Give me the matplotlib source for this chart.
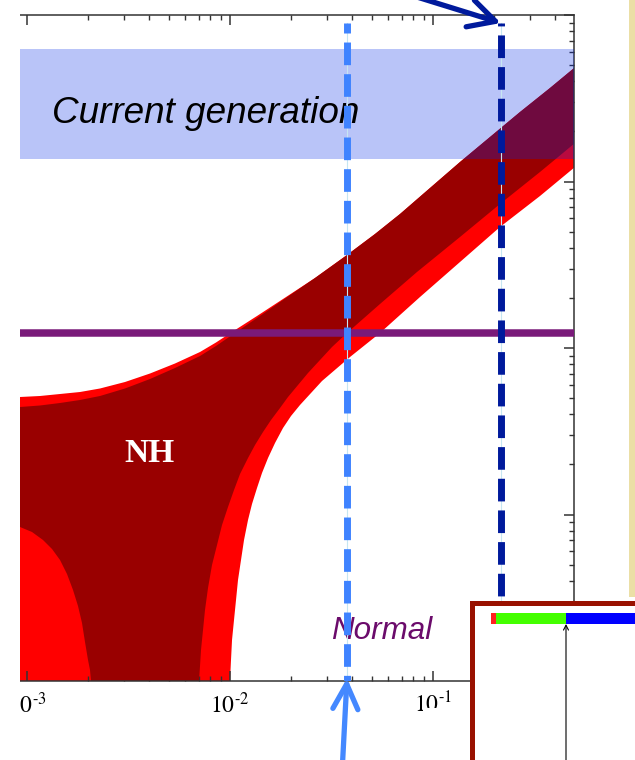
import numpy as np
import matplotlib
matplotlib.use("Agg")
import matplotlib.pyplot as plt
from matplotlib.patches import Rectangle
from matplotlib.ticker import LogLocator, NullFormatter, FixedLocator, FixedFormatter

plt.rcParams['mathtext.fontset'] = 'stix'
plt.rcParams['lines.scale_dashes'] = False

# ---------------- data (values given as log10 of eV) ----------------
x_range = (9.235e-4, 0.495)          # lightest neutrino mass [eV]
y_range = (1e-4, 1.0)                # effective Majorana mass [eV]
x_ticks = [1e-3, 1e-2, 1e-1]
x_tick_labels = [r'$10^{\text{-}3}$', r'$10^{\text{-}2}$', r'$10^{\text{-}1}$']

# upper boundary of the NH band
upper_logm = [-3.0837, -3.0345, -2.9360, -2.8374, -2.7389, -2.6404, -2.5172, -2.3941,
              -2.2709, -2.1478, -2.0690, -1.9901, -1.8670, -1.7389, -1.5813, -1.4236,
              -1.2857, -1.1626, -1.0148, -0.8670, -0.7192, -0.5714, -0.4236, -0.2512]
upper_dark_log = [-2.3604, -2.3544, -2.3453, -2.3303, -2.3123, -2.2883, -2.2432, -2.1862,
                  -2.1201, -2.0480, -1.9880, -1.9219, -1.8198, -1.7117, -1.5796, -1.4414,
                  -1.3153, -1.1952, -1.0390, -0.8829, -0.7327, -0.5826, -0.4384, -0.2643]
upper_outer_log = [-2.3003, -2.2943, -2.2883, -2.2763, -2.2643, -2.2432, -2.2042, -2.1532,
                   -2.0931, -2.0240, -1.9670, -1.9039, -1.8078, -1.7057, -1.5796, -1.4414,
                   -1.3153, -1.1952, -1.0390, -0.8829, -0.7327, -0.5826, -0.4384, -0.2643]

# lower boundary (right branch) of the best-fit region
lower_dark_logm = [-0.2512, -0.3005, -0.4729, -0.6700, -0.8670, -1.0788, -1.2611, -1.4236,
                   -1.4975, -1.5567, -1.6158, -1.6650, -1.7143, -1.7537, -1.7980, -1.8374,
                   -1.8768, -1.9113, -1.9507, -1.9803, -2.0099, -2.0394, -2.0640, -2.0887,
                   -2.1084, -2.1232, -2.1330, -2.1429, -2.1478, -2.1527]
lower_dark_log = [-0.7207, -0.7688, -0.9429, -1.1351, -1.3333, -1.5435, -1.7357, -1.9099,
                  -1.9940, -2.0721, -2.1502, -2.2222, -2.2943, -2.3604, -2.4324, -2.5045,
                  -2.5826, -2.6607, -2.7568, -2.8529, -2.9550, -3.0631, -3.1832, -3.3033,
                  -3.4414, -3.5736, -3.6937, -3.8138, -3.9099, -4.0]

# lower boundary (right branch) of the 3 sigma region
lower_outer_logm = [-0.2512, -0.3005, -0.4729, -0.6700, -0.8670, -1.0640, -1.2611, -1.3350,
                    -1.4089, -1.4778, -1.5468, -1.6010, -1.6552, -1.6995, -1.7389, -1.7783,
                    -1.8128, -1.8424, -1.8670, -1.8916, -1.9113, -1.9310, -1.9458, -1.9606,
                    -1.9704, -1.9803, -1.9901, -1.9951, -2.0]
lower_outer_log = [-0.8649, -0.9129, -1.0871, -1.2733, -1.4835, -1.6937, -1.9099, -1.9820,
                   -2.0541, -2.1261, -2.1982, -2.2703, -2.3423, -2.4084, -2.4805, -2.5706,
                   -2.6607, -2.7508, -2.8408, -2.9369, -3.0330, -3.1532, -3.2733, -3.3934,
                   -3.5135, -3.6336, -3.7538, -3.8739, -4.0]

# lower boundary (left branch) of the best-fit region
blob_logm = [-2.6847, -2.6897, -2.6995, -2.7143, -2.7291, -2.7488, -2.7734, -2.8030,
             -2.8374, -2.8768, -2.9212, -2.9754, -3.0345, -3.0837]
blob_log = [-4.0, -3.9339, -3.8739, -3.7658, -3.6517, -3.5495, -3.4535, -3.3574,
            -3.2733, -3.2072, -3.1532, -3.1051, -3.0751, -3.0450]

floor = 1e-5
normal_sensitivity = 0.0123
current_band = (0.1365, 0.625)
light_line_m = 0.0377
dark_line_m = 0.216
line_top = 0.895

# inset colour bar segments (left offset, widths)
inset_start = 19.5
inset_widths = [5, 70, 100]
inset_colors = ['#ff2020', '#44ff00', '#0000ff']
inset_arrow_x = inset_start + inset_widths[0] + inset_widths[1]

# ---------------- figure ----------------
def ev(v):
    return list(10.0 ** np.asarray(v))

W, H = 635, 760
fig = plt.figure(figsize=(W / 100, H / 100), dpi=100)
fig.patch.set_facecolor('white')
ax = fig.add_axes([20 / W, (H - 681) / H, 554 / W, 666 / H])
ax.set_xscale('log')
ax.set_yscale('log')
ax.set_xlim(*x_range)
ax.set_ylim(*y_range)

um = ev(upper_logm)
# 3 sigma (bright red)
bx = um + ev(lower_outer_logm) + [ev(lower_outer_logm)[-1], um[0]]
by = ev(upper_outer_log) + ev(lower_outer_log) + [floor, floor]
ax.fill(bx, by, color='#ff0000', lw=0, zorder=1)
# best fit (dark red)
dx = um + ev(lower_dark_logm) + [ev(lower_dark_logm)[-1], ev(blob_logm)[0]] + ev(blob_logm)
dy = ev(upper_dark_log) + ev(lower_dark_log) + [floor, floor] + ev(blob_log)
ax.fill(dx, dy, color='#990000', lw=0, zorder=2)

# current generation band
ax.axhspan(*current_band, color='#0028e6', alpha=0.275, lw=0, zorder=3)
ax.text(0.0578, 0.8378, 'Current generation', transform=ax.transAxes,
        family='Liberation Sans', style='italic', fontsize=26.6,
        ha='left', va='baseline', color='black', zorder=4)

# normal hierarchy sensitivity line
ax.axhline(normal_sensitivity, color='#7a1a7a', lw=5.4, zorder=5)

ax.text(4.0e-3, 2.34e-3, 'NH', family='Liberation Serif', weight='bold',
        fontsize=24, color='white', ha='center', va='center', zorder=4)
ax.text(0.0314, 1.79e-4, 'Normal', family='Liberation Sans', style='italic',
        fontsize=22.6, color='#6b0b6b', ha='left', va='baseline', zorder=4)

# dashed vertical lines
for m, col, off, bottom in [(light_line_m, '#3f83ff', 9.1, 1e-4),
                            (dark_line_m, '#001a9c', 14.2, 1e-4)]:
    ax.plot([m, m], [line_top, bottom], color='#c6e6f2', lw=0.8, zorder=5.5)
    ax.plot([m, m], [line_top, bottom], color=col, lw=5.0,
            linestyle=(off, (16.3, 6.5)), dash_capstyle='butt', zorder=6)

# arrows
ax.annotate('', xy=(dark_line_m, line_top), xytext=(-100, 31),
            textcoords='offset pixels', annotation_clip=False,
            arrowprops=dict(arrowstyle='->,head_length=0.95,head_width=0.5',
                            color='#001a9c', lw=3.8, shrinkA=0, shrinkB=0,
                            mutation_scale=20))
ax.annotate('', xy=(light_line_m, 1.04e-4), xytext=(-5, -95),
            textcoords='offset pixels', annotation_clip=False,
            arrowprops=dict(arrowstyle='->,head_length=0.9,head_width=0.45',
                            color='#4488ff', lw=3.8, shrinkA=0, shrinkB=0,
                            mutation_scale=20))

# axes styling
for s in ['top', 'bottom', 'right']:
    ax.spines[s].set_color('#333333')
    ax.spines[s].set_linewidth(1.1)
ax.spines['left'].set_visible(False)
ax.xaxis.set_major_locator(FixedLocator(x_ticks))
ax.xaxis.set_major_formatter(FixedFormatter(x_tick_labels))
ax.xaxis.set_minor_locator(LogLocator(base=10, subs=range(2, 10), numticks=20))
ax.xaxis.set_minor_formatter(NullFormatter())
ax.yaxis.set_major_locator(LogLocator(base=10, numticks=10))
ax.yaxis.set_minor_locator(LogLocator(base=10, subs=range(2, 10), numticks=20))
ax.yaxis.set_minor_formatter(NullFormatter())
ax.tick_params(which='both', direction='in', top=True, bottom=True, right=True,
               left=False, labelleft=False, labelright=False, labeltop=False,
               colors='#333333', labelcolor='black')
ax.tick_params(which='major', length=7.2, width=1.1, labelsize=17, pad=8)
ax.tick_params(which='minor', length=3.6, width=1.0)

# inset box (lower right)
ins = fig.add_axes([471.5 / W, (H - 800) / H, (760 - 471.5) / W, (800 - 602.5) / H],
                   zorder=10)
ins.set_xlim(0, 288.5)
ins.set_ylim(197.5, 0)
ins.set_facecolor('white')
for s in ['left', 'top']:
    ins.spines[s].set_color('#991100')
    ins.spines[s].set_linewidth(3.6)
for s in ['right', 'bottom']:
    ins.spines[s].set_visible(False)
ins.set_xticks([])
ins.set_yticks([])
lefts = [inset_start, inset_start + inset_widths[0], inset_start + inset_widths[0] + inset_widths[1]]
ins.barh([16] * 3, inset_widths, left=lefts, height=11, color=inset_colors, lw=0)
ins.annotate('', xy=(inset_arrow_x, 21.5), xytext=(inset_arrow_x, 200),
             arrowprops=dict(arrowstyle='->,head_length=0.35,head_width=0.18',
                             color='black', lw=0.8, shrinkA=0, shrinkB=0))

# slide decorations: beige side panel and white crop margins
fig.add_artist(Rectangle((629 / W, 1 - 597 / H), 10 / W, 597 / H + 0.01,
                         transform=fig.transFigure, color='#ebdfa6', lw=0, zorder=5))
fig.add_artist(Rectangle((0, 0), 20 / W, 1, transform=fig.transFigure,
                         color='white', lw=0, zorder=20))
fig.add_artist(Rectangle((423 / W, 1 - 725 / H), 23 / W, 17 / H,
                         transform=fig.transFigure, color='white', lw=0, zorder=20))

fig.savefig('out.png', dpi=100, facecolor='white')
